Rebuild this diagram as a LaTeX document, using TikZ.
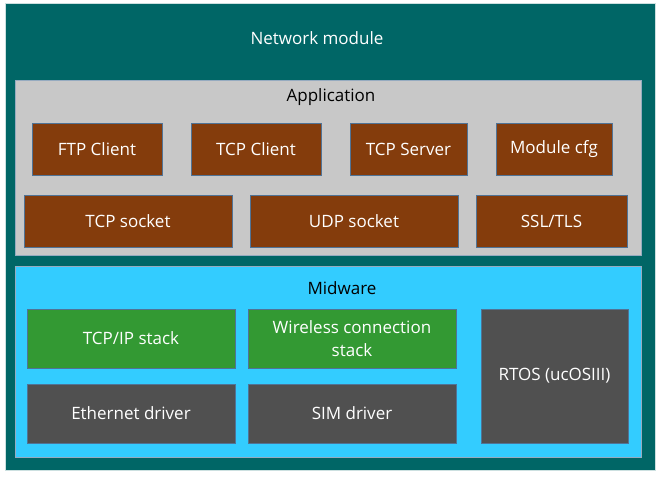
\documentclass[tikz,border=0pt]{standalone}
\usepackage{fontspec}
\setmainfont{Open Sans}
\usetikzlibrary{positioning}

\definecolor{tealbg}{RGB}{0,102,102}
\definecolor{appgray}{RGB}{200,200,200}
\definecolor{brownblk}{RGB}{132,60,12}
\definecolor{midcyan}{RGB}{51,204,255}
\definecolor{greenblk}{RGB}{51,153,51}
\definecolor{darkblk}{RGB}{80,80,80}
\definecolor{edge}{RGB}{80,115,150}

\tikzset{
  blk/.style={draw=edge, line width=0.6pt, inner sep=0pt, text=white,
    font=\fontsize{12.75}{17.25}\selectfont, align=center},
  appblk/.style={blk, fill=brownblk, minimum height=39pt},
  stackblk/.style={blk, fill=greenblk, minimum height=44.25pt},
  drvblk/.style={blk, fill=darkblk},
  layer/.style={draw=edge!60, line width=0.6pt, inner sep=0pt},
  title/.style={font=\fontsize{12.75}{15}\selectfont}
}

\begin{document}
\begin{tikzpicture}[x=0.75pt, y=-0.75pt]
  \useasboundingbox (0,0) rectangle (662,480);

  % Outer module
  \node[layer, draw=white!80!tealbg, fill=tealbg, minimum width=487.5pt, minimum height=350.25pt] (module) at (330,236.5) {};
  \node[title, text=white] (moduletitle) at (317,38) {Network module};

  % Application layer
  \node[layer, fill=appgray, minimum width=469.5pt, minimum height=131.25pt] (app) at (328,167.5) {};
  \node[title] (apptitle) at (331,97) {Application};

  \node[appblk, minimum width=97.5pt] (ftp) at (97,149) {FTP Client};
  \node[appblk, minimum width=97.5pt] (tcpc) at (256,149) {TCP Client};
  \node[appblk, minimum width=87.75pt] (tcps) at (408.5,149) {TCP Server};
  \node[appblk, minimum width=87pt] (cfg) at (554,149) {Module cfg};

  \node[appblk, minimum width=156pt] (tcpsock) at (128,221) {TCP socket};
  \node[appblk, minimum width=156pt] (udpsock) at (354,221) {UDP socket};
  \node[appblk, minimum width=113.25pt] (ssl) at (551.5,221) {SSL/TLS};

  % Midware layer
  \node[layer, fill=midcyan, minimum width=469.5pt, minimum height=143.25pt] (mid) at (328,361.5) {};
  \node[title] (midtitle) at (342,288) {Midware};

  \node[stackblk, minimum width=156pt] (tcpip) at (131,338.5) {TCP/IP stack};
  \node[stackblk, minimum width=156pt] (wireless) at (352,338.5) {Wireless connection\\stack};
  \node[drvblk, minimum width=156pt, minimum height=44.25pt] (eth) at (131,413.5) {Ethernet driver};
  \node[drvblk, minimum width=156pt, minimum height=44.25pt] (sim) at (352,413.5) {SIM driver};
  \node[drvblk, minimum width=110.25pt, minimum height=100.5pt] (rtos) at (554.5,376) {RTOS (ucOSIII)};
\end{tikzpicture}
\end{document}
